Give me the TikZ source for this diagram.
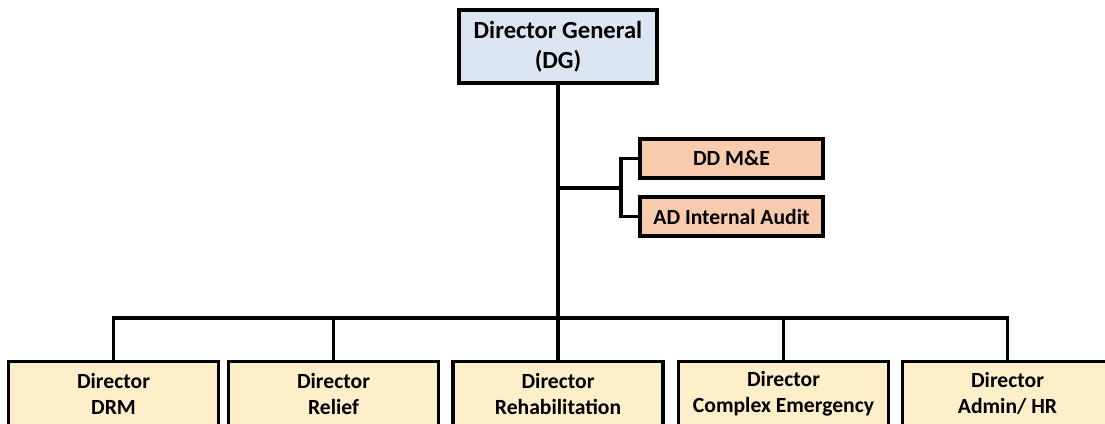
\documentclass[tikz,border=0pt]{standalone}
\usepackage{fontspec}
\setmainfont{Carlito}
\usetikzlibrary{calc}

\definecolor{dgblue}{HTML}{DCE6F2}
\definecolor{ddorange}{HTML}{F8CBAD}
\definecolor{dircream}{HTML}{FDEFC9}

\begin{document}
\begin{tikzpicture}[x=0.02cm,y=-0.02cm,line width=1.9pt,
  box/.style={draw=black,align=center,inner sep=0pt,font=\bfseries},
  dgbox/.style={box,fill=dgblue,minimum width=3.96cm,minimum height=1.46cm,
    font=\bfseries\fontsize{14}{17}\selectfont},
  ddbox/.style={box,fill=ddorange,minimum width=3.66cm,minimum height=0.78cm,
    font=\bfseries\fontsize{12.3}{14}\selectfont},
  dirbox/.style={box,fill=dircream,minimum width=4.2cm,minimum height=1.28cm,anchor=north,
    font=\bfseries\fontsize{12.3}{14.8}\selectfont}]
  \useasboundingbox (0,0) rectangle (1105,423);
  \clip (0,0) rectangle (1105,423);
  % Leitung
  \node[dgbox] (dg) at (558,46.5) {Director General\\(DG)};
  % Stab
  \node[ddbox] (dd) at (731.5,158.5) {DD M\&E};
  \node[ddbox] (ad) at (731.5,216.5) {AD Internal Audit};
  % Direktoren
  \node[dirbox] (dir1) at (113.5,360) {Director\\DRM};
  \node[dirbox] (dir2) at (333.5,360) {Director\\Relief};
  \node[dirbox] (dir3) at (558,360) {Director\\Rehabilitation};
  \node[dirbox] (dir4) at (783.5,360) {Director\\Complex Emergency};
  \node[dirbox] (dir5) at (1007.5,360) {Director\\Admin/ HR};
  % Linien
  \coordinate (bus) at (558,318);
  \coordinate (side) at (621,188);
  \draw (dg.south) -- (dir3.north);
  \draw (dg.south |- side) -- (side);
  \draw (dd.west) -| (side) |- (ad.west);
  \draw (dir1.north) |- (bus) -| (dir5.north);
  \foreach \d in {2,4} { \draw (dir\d.north) -- (dir\d.north |- bus); }
\end{tikzpicture}
\end{document}
